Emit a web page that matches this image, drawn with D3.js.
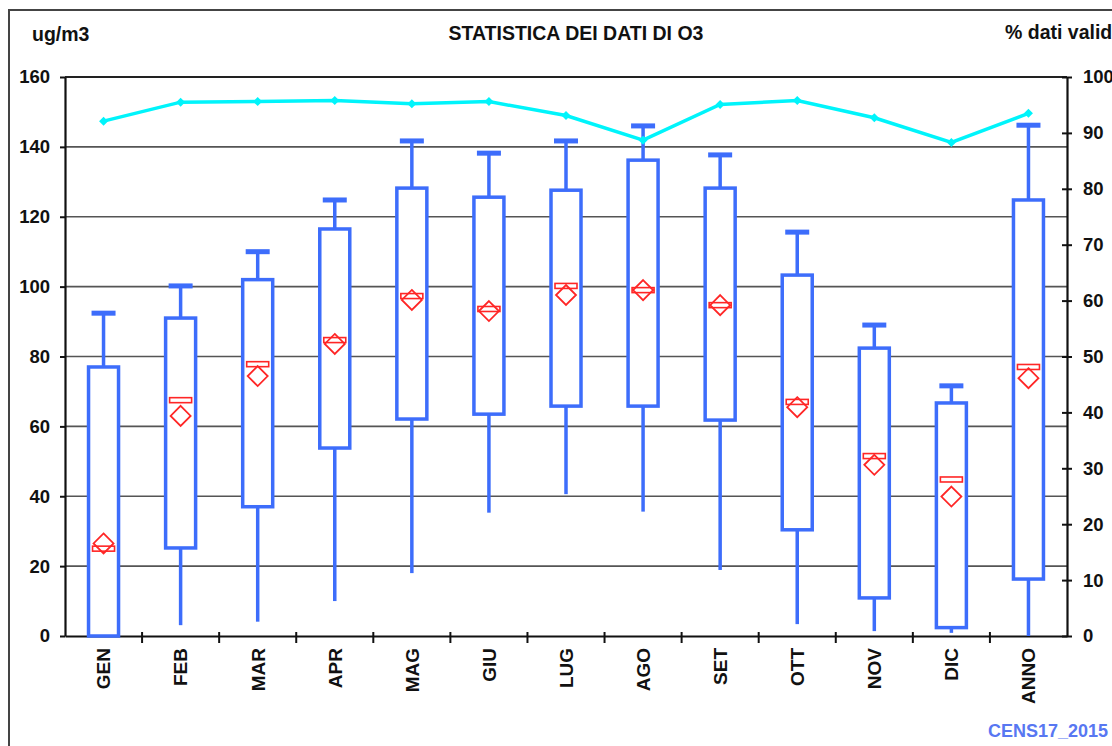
<!DOCTYPE html>
<html>
<head>
<meta charset="utf-8">
<script src="https://cdn.jsdelivr.net/npm/d3@7"></script>
<style>
  body { margin: 0; background: #fff; }
  svg text { font-family: "Liberation Sans", Arial, sans-serif; font-weight: bold; fill: #111; }
</style>
</head>
<body>
<div id="chart"></div>
<script>
// dati
const mesi = ["GEN", "FEB", "MAR", "APR", "MAG", "GIU", "LUG", "AGO", "SET", "OTT", "NOV", "DIC", "ANNO"]
const massimo = [92.4, 100.2, 110, 124.8, 141.7, 138.2, 141.7, 146, 137.7, 115.6, 89, 71.6, 146.2]
const q3 = [77, 91, 102, 116.5, 128.2, 125.6, 127.6, 136.2, 128.2, 103.3, 82.4, 66.7, 124.8]
const q1 = [0, 25.2, 37, 53.8, 62.1, 63.5, 65.8, 65.8, 61.8, 30.4, 10.9, 2.4, 16.3]
const minimo = [0, 3.1, 4.1, 10, 18, 35.3, 40.6, 35.6, 18.9, 3.4, 1.4, 0.9, 0]
const mediana = [25, 67.5, 77.8, 84.7, 97.3, 93.6, 100.2, 99, 94.7, 67, 51.5, 44.8, 77]
const media = [26.5, 63, 74.4, 83.6, 96.2, 93, 97.6, 99, 94.7, 65.5, 49, 39.9, 73.8]
const datiValidi = [92.1, 95.5, 95.6, 95.8, 95.2, 95.6, 93.1, 88.7, 95.1, 95.8, 92.7, 88.3, 93.5]
const ticksSx = [0, 20, 40, 60, 80, 100, 120, 140, 160]
const ticksDx = [0, 10, 20, 30, 40, 50, 60, 70, 80, 90, 100]

const width = 1112
const height = 746
const margin = { top: 77, bottom: 110, left: 65, right: 45 }
const innerW = width - margin.left - margin.right
const innerH = height - margin.top - margin.bottom

const blu = "#3d6dfb"
const rosso = "#ff2626"
const ciano = "#00f4fb"

const svg = d3.select("#chart").append("svg").attr("width", width).attr("height", height)

// cornice esterna
svg.append("rect").attr("x", 9).attr("y", 10).attr("width", 1130).attr("height", 760)
    .attr("fill", "none").attr("stroke", "#444").attr("stroke-width", 2)

const g = svg.append("g").attr("transform", `translate(${margin.left}, ${margin.top})`)

// scale
const x = d3.scaleBand().domain(mesi).range([0, innerW]).padding(0)
const y = d3.scaleLinear().domain([0, 160]).range([innerH, 0])
const y2 = d3.scaleLinear().domain([0, 100]).range([innerH, 0])

// griglia
g.append("g").selectAll("line").data(ticksSx.slice(1, -1))
    .join("line")
        .attr("x1", 0).attr("x2", innerW)
        .attr("y1", d => y(d)).attr("y2", d => y(d))
        .attr("stroke", "#555").attr("stroke-width", 1.6)

// bordo superiore
g.append("line").attr("x1", 0).attr("x2", innerW).attr("y1", 0).attr("y2", 0)
    .attr("stroke", "#222").attr("stroke-width", 2)

// assi
const yAxis = d3.axisLeft(y).tickValues(ticksSx).tickSize(5).tickSizeOuter(0).tickPadding(10)
const y2Axis = d3.axisRight(y2).tickValues(ticksDx).tickSize(5).tickSizeOuter(0).tickPadding(11)
const xAxis = d3.axisBottom(x).tickSize(0).tickSizeOuter(0).tickFormat("")

const yAxisGroup = g.append("g").call(yAxis)
const y2AxisGroup = g.append("g").attr("transform", `translate(${innerW}, 0)`).call(y2Axis)
const xAxisGroup = g.append("g").attr("transform", `translate(0, ${innerH})`).call(xAxis)

;[yAxisGroup, y2AxisGroup, xAxisGroup].forEach(a => {
    a.select(".domain").attr("stroke", "#111").attr("stroke-width", 2.2)
    a.selectAll(".tick line").attr("stroke", "#111").attr("stroke-width", 2)
    a.selectAll(".tick text").attr("font-size", 18.5).attr("fill", "#111")
})
y2AxisGroup.selectAll(".tick line").attr("x1", -5)

// tacche tra le categorie
xAxisGroup.append("g").selectAll("line").data(mesi.slice(1))
    .join("line")
        .attr("x1", d => x(d)).attr("x2", d => x(d))
        .attr("y1", -4).attr("y2", 7)
        .attr("stroke", "#111").attr("stroke-width", 2)

// etichette ruotate
xAxisGroup.append("g").selectAll("text").data(mesi)
    .join("text")
        .attr("transform", d => `translate(${x(d) + x.bandwidth() / 2}, 12) rotate(-90)`)
        .attr("text-anchor", "end")
        .attr("dy", "0.36em")
        .attr("font-size", 19)
        .text(d => d)

// box plot
const boxW = 30
const capW = 24
const cx = d => x(d) + x.bandwidth() / 2
const idx = mesi.map((d, i) => i)

const boxes = g.append("g")
boxes.selectAll(".whisker-top").data(idx)
    .join("line").attr("class", "whisker-top")
        .attr("x1", i => cx(mesi[i])).attr("x2", i => cx(mesi[i]))
        .attr("y1", i => y(massimo[i])).attr("y2", i => y(q3[i]))
        .attr("stroke", blu).attr("stroke-width", 3.5)
boxes.selectAll(".whisker-bot").data(idx)
    .join("line").attr("class", "whisker-bot")
        .attr("x1", i => cx(mesi[i])).attr("x2", i => cx(mesi[i]))
        .attr("y1", i => y(q1[i])).attr("y2", i => y(minimo[i]))
        .attr("stroke", blu).attr("stroke-width", 3.5)
boxes.selectAll(".cap").data(idx)
    .join("rect").attr("class", "cap")
        .attr("x", i => cx(mesi[i]) - capW / 2).attr("width", capW)
        .attr("y", i => y(massimo[i]) - 2.5).attr("height", 5)
        .attr("fill", blu)
boxes.selectAll(".box").data(idx)
    .join("rect").attr("class", "box")
        .attr("x", i => cx(mesi[i]) - boxW / 2).attr("width", boxW)
        .attr("y", i => y(q3[i])).attr("height", i => y(q1[i]) - y(q3[i]))
        .attr("fill", "#fff").attr("stroke", blu).attr("stroke-width", 3.5)

// mediana e media
boxes.selectAll(".mediana").data(idx)
    .join("rect").attr("class", "mediana")
        .attr("x", i => cx(mesi[i]) - 11).attr("width", 22)
        .attr("y", i => y(mediana[i]) - 2.5).attr("height", 5)
        .attr("fill", "none").attr("stroke", rosso).attr("stroke-width", 1.6)
boxes.selectAll(".media").data(idx)
    .join("path").attr("class", "media")
        .attr("d", i => {
            const px = cx(mesi[i]), py = y(media[i]), r = 10
            return `M${px},${py - r}L${px + r},${py}L${px},${py + r}L${px - r},${py}Z`
        })
        .attr("fill", "none").attr("stroke", rosso).attr("stroke-width", 1.8)

// % dati validi
const line = d3.line().x((d, i) => cx(mesi[i])).y(d => y2(d))
g.append("path").datum(datiValidi)
    .attr("d", line).attr("fill", "none").attr("stroke", ciano).attr("stroke-width", 3.5)
g.append("g").selectAll("path").data(datiValidi)
    .join("path")
        .attr("d", (d, i) => {
            const px = cx(mesi[i]), py = y2(d), r = 4.5
            return `M${px},${py - r}L${px + r},${py}L${px},${py + r}L${px - r},${py}Z`
        })
        .attr("fill", ciano)

// testi
svg.append("text").attr("x", 576).attr("y", 40).attr("text-anchor", "middle")
    .attr("font-size", 19.5).text("STATISTICA DEI DATI DI O3")
svg.append("text").attr("x", 32).attr("y", 41).attr("font-size", 19.5).text("ug/m3")
svg.append("text").attr("x", 1005).attr("y", 39).attr("font-size", 19.5).text("% dati validi")
svg.append("text").attr("x", 1108).attr("y", 737).attr("text-anchor", "end")
    .attr("font-size", 18).style("fill", "#5877f2").text("CENS17_2015")
</script>
</body>
</html>
